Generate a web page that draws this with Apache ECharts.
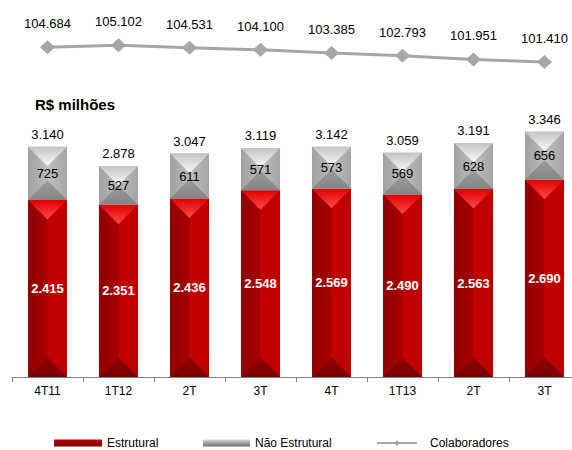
<!DOCTYPE html>
<html>
<head>
<meta charset="utf-8">
<script src="https://cdn.jsdelivr.net/npm/echarts@6/dist/echarts.min.js"></script>
<style>
  html, body { margin: 0; padding: 0; background: #fff; }
  #chart { width: 572px; height: 450px; }
</style>
</head>
<body>
<div id="chart"></div>
<script>
// Quarterly personnel expenses (R$ milhões) and headcount
const categories = ['4T11', '1T12', '2T', '3T', '4T', '1T13', '2T', '3T'];
const estrutural = [2415, 2351, 2436, 2548, 2569, 2490, 2563, 2690];
const naoEstrutural = [725, 527, 611, 571, 573, 569, 628, 656];
const colaboradores = [104684, 105102, 104531, 104100, 103385, 102793, 101951, 101410];

const FONT = 'Liberation Sans, Arial, sans-serif';
const BAR_RATIO = 0.55;

// thousands separator used in Brazilian reports: 2415 -> "2.415"
function fmt(v) {
  return String(Math.round(v)).replace(/\B(?=(\d{3})+(?!\d))/g, '.');
}

function lin(x, y, x2, y2, c0, c1) {
  return { type: 'linear', x: x, y: y, x2: x2, y2: y2,
    colorStops: [{ offset: 0, color: c0 }, { offset: 1, color: c1 }] };
}

// bevelled faces for each stack
const redFaces = {
  base: '#b00000',
  top: lin(0, 0, 0, 1, '#e00000', '#ff4848'),
  left: lin(0, 0, 1, 0, '#900000', '#a80000'),
  right: lin(0, 0, 1, 0, '#c60000', '#bc0000'),
  bottom: lin(0, 0, 0, 1, '#900000', '#780000'),
  center: '#b40000'
};
const grayFaces = {
  base: '#a8a8a8',
  top: lin(0, 0, 0, 1, '#c4c4c4', '#fafafa'),
  left: lin(0, 0, 1, 0, '#a0a0a0', '#bcbcbc'),
  right: lin(0, 0, 1, 0, '#c0c0c0', '#a4a4a4'),
  bottom: lin(0, 0, 0, 1, '#9c9c9c', '#858585'),
  center: '#b0b0b0'
};

function bevelBar(faces, inner, showTotal) {
  return function (params, api) {
    const i = api.value(0), lo = api.value(1), hi = api.value(2);
    const pBot = api.coord([i, lo]);
    const pTop = api.coord([i, hi]);
    const bw = api.size([1, 0])[0] * BAR_RATIO;
    const cx = pBot[0];
    const x0 = cx - bw / 2, x1 = cx + bw / 2;
    const yT = pTop[1], yB = pBot[1];
    const d = Math.min(bw / 2, (yB - yT) / 2);
    const poly = (pts, fill) => ({ type: 'polygon', shape: { points: pts }, style: { fill: fill } });
    const children = [
      { type: 'rect', shape: { x: x0, y: yT, width: bw, height: yB - yT }, style: { fill: faces.base } },
      poly([[x0, yT], [x0 + d, yT + d], [x0 + d, yB - d], [x0, yB]], faces.left),
      poly([[x1, yT], [x1 - d, yT + d], [x1 - d, yB - d], [x1, yB]], faces.right),
      poly([[x0, yT], [x1, yT], [x1 - d, yT + d], [x0 + d, yT + d]], faces.top),
      poly([[x0, yB], [x1, yB], [x1 - d, yB - d], [x0 + d, yB - d]], faces.bottom)
    ];
    if (bw - 2 * d > 0.5) {
      children.push({ type: 'rect', shape: { x: x0 + d, y: yT + d, width: bw - 2 * d, height: yB - yT - 2 * d },
        style: { fill: faces.center } });
    }
    children.push({
      type: 'text',
      style: { text: fmt(hi - lo), x: cx, y: (yT + yB) / 2, align: 'center', verticalAlign: 'middle',
        fill: inner.color, fontSize: 13, fontWeight: inner.weight, fontFamily: FONT }
    });
    if (showTotal) {
      children.push({
        type: 'text',
        style: { text: fmt(hi), x: cx, y: yT - 6, align: 'center', verticalAlign: 'bottom',
          fill: '#000', fontSize: 13, fontFamily: FONT }
      });
    }
    return { type: 'group', children: children };
  };
}

const chart = echarts.init(document.getElementById('chart'), null, { renderer: 'svg' });

chart.setOption({
  animation: false,
  textStyle: { fontFamily: FONT },
  title: {
    text: 'R$ milhões', left: 35, top: 97, padding: 0,
    textStyle: { fontSize: 15, fontWeight: 'bold', color: '#000', fontFamily: FONT }
  },
  legend: [
    { left: 54, top: 437, itemWidth: 48, itemHeight: 7, padding: 0,
      data: [{ name: 'Estrutural', icon: 'rect' }],
      textStyle: { fontSize: 12, color: '#000' } },
    { left: 203, top: 437, itemWidth: 47, itemHeight: 7, padding: 0,
      data: [{ name: 'Não Estrutural', icon: 'rect' }],
      textStyle: { fontSize: 12, color: '#000' } },
    { left: 376, top: 437, itemWidth: 40, itemHeight: 7, padding: 0,
      data: [{ name: 'Colaboradores' }],
      textStyle: { fontSize: 12, color: '#000', padding: [0, 0, 0, 8] } }
  ],
  grid: [
    { left: 12, width: 568, top: 98.4, bottom: 73, outerBoundsMode: 'none', containLabel: false },
    { left: 12, width: 568, top: 41.2, height: 27.1, outerBoundsMode: 'none', containLabel: false }
  ],
  xAxis: [
    { type: 'category', gridIndex: 0, data: categories,
      axisLine: { lineStyle: { color: '#808080', width: 1 } },
      axisTick: { show: true, length: 5, lineStyle: { color: '#808080' } },
      axisLabel: { color: '#000', fontSize: 12, margin: 8 } },
    { type: 'category', gridIndex: 1, data: categories, show: false }
  ],
  yAxis: [
    { type: 'value', gridIndex: 0, min: 0, max: 3800, show: false, splitLine: { show: false } },
    { type: 'value', gridIndex: 1, min: 100000, max: 106000, show: false, splitLine: { show: false } }
  ],
  series: [
    {
      type: 'custom', name: 'Estrutural', xAxisIndex: 0, yAxisIndex: 0,
      itemStyle: { color: lin(0, 0, 0, 1, '#c00000', '#7a0000') },
      encode: { x: 0, y: [1, 2] },
      data: estrutural.map((v, i) => [i, 0, v]),
      renderItem: bevelBar(redFaces, { color: '#fff', weight: 'bold' }, false)
    },
    {
      type: 'custom', name: 'Não Estrutural', xAxisIndex: 0, yAxisIndex: 0,
      itemStyle: { color: lin(0, 0, 0, 1, '#d8d8d8', '#6e6e6e') },
      encode: { x: 0, y: [1, 2] },
      data: naoEstrutural.map((v, i) => [i, estrutural[i], estrutural[i] + v]),
      renderItem: bevelBar(grayFaces, { color: '#000', weight: 'normal' }, true)
    },
    {
      type: 'line', name: 'Colaboradores', xAxisIndex: 1, yAxisIndex: 1,
      data: colaboradores,
      symbol: 'diamond', symbolSize: [15, 14],
      lineStyle: { color: '#a6a6a6', width: 3 },
      itemStyle: { color: '#a6a6a6' },
      label: { show: true, position: 'top', distance: 10, color: '#000', fontSize: 13,
        formatter: p => fmt(p.value) }
    }
  ]
});
</script>
</body>
</html>
